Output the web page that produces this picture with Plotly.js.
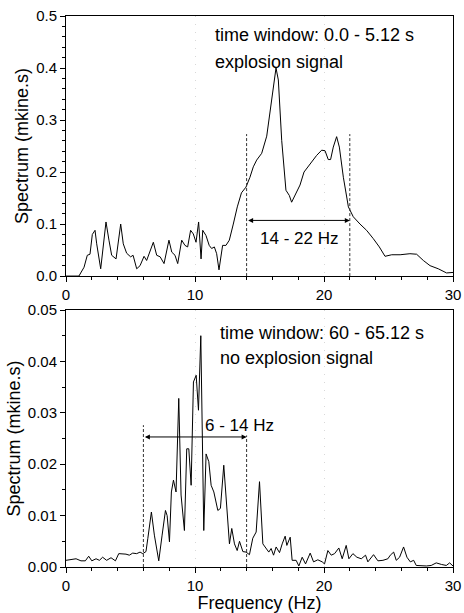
<!DOCTYPE html>
<html>
<head>
<meta charset="utf-8">
<script src="https://cdn.plot.ly/plotly-3.0.1.min.js"></script>
<style>html,body{margin:0;padding:0;background:#fff;}#chart{width:464px;height:613px;}</style>
</head>
<body>
<div id="chart"></div>
<script>
// Top panel: time window 0.0 - 5.12 s (explosion signal)
var freqTop = [0, 1.0, 1.4, 1.65, 1.86, 2.04, 2.25, 2.38, 2.69, 3.1, 3.33, 3.54, 3.88, 4.24, 4.44, 4.7, 5.01, 5.2, 5.48, 5.74, 6.05, 6.25, 6.77, 7.03, 7.3, 7.6, 7.98, 8.2, 8.45, 8.66, 8.97, 9.22, 9.43, 9.66, 9.87, 10.08, 10.28, 10.47, 10.6, 10.85, 11.1, 11.29, 11.5, 11.68, 11.86, 12.14, 12.4, 12.66, 12.97, 13.28, 13.6, 13.95, 14.26, 14.52, 14.78, 15.17, 15.56, 15.86, 16.07, 16.28, 16.46, 16.72, 17.05, 17.31, 17.49, 17.83, 18.14, 18.45, 18.91, 19.43, 19.82, 20.08, 20.33, 20.51, 20.72, 20.98, 21.19, 21.5, 21.89, 22.27, 22.79, 23.3, 23.82, 24.29, 24.73, 25.25, 25.9, 26.66, 27.18, 27.7, 28.22, 28.86, 29.5, 30];
var specTop = [0, 0, 0.017, 0.04, 0.042, 0.08, 0.088, 0.062, 0.014, 0.104, 0.069, 0.04, 0.033, 0.10, 0.062, 0.044, 0.037, 0.04, 0.014, 0.02, 0.038, 0.03, 0.065, 0.04, 0.037, 0.024, 0.069, 0.046, 0.04, 0.024, 0.069, 0.059, 0.056, 0.088, 0.081, 0.065, 0.104, 0.033, 0.088, 0.078, 0.059, 0.053, 0.056, 0.043, 0.012, 0.059, 0.059, 0.069, 0.10, 0.133, 0.16, 0.171, 0.19, 0.21, 0.223, 0.236, 0.269, 0.325, 0.367, 0.40, 0.377, 0.261, 0.165, 0.155, 0.142, 0.159, 0.175, 0.20, 0.216, 0.232, 0.242, 0.241, 0.224, 0.224, 0.248, 0.268, 0.248, 0.19, 0.133, 0.114, 0.10, 0.088, 0.072, 0.056, 0.038, 0.041, 0.041, 0.043, 0.042, 0.030, 0.02, 0.014, 0.006, 0.007];

// Bottom panel: time window 60 - 65.12 s (no explosion signal)
var freqBot = [0, 0.39, 0.78, 1.16, 1.5, 1.76, 2.0, 2.33, 2.59, 2.84, 3.15, 3.49, 3.83, 4.09, 4.65, 4.91, 5.17, 5.48, 5.74, 5.95, 6.2, 6.34, 6.62, 6.85, 7.19, 7.45, 7.71, 7.84, 8.02, 8.17, 8.33, 8.53, 8.74, 8.92, 9.18, 9.36, 9.52, 9.7, 9.88, 10.09, 10.27, 10.45, 10.68, 10.86, 11.07, 11.25, 11.46, 11.77, 11.97, 12.23, 12.41, 12.67, 12.85, 13.06, 13.27, 13.45, 13.71, 13.96, 14.22, 14.48, 14.74, 15.0, 15.26, 15.52, 15.72, 15.9, 16.09, 16.29, 16.55, 16.76, 16.99, 17.12, 17.38, 17.53, 17.84, 18.05, 18.31, 18.57, 18.93, 19.19, 19.52, 19.86, 20.04, 20.3, 20.56, 20.82, 21.15, 21.41, 21.72, 21.93, 22.24, 22.55, 22.89, 23.22, 23.4, 23.84, 24.18, 24.57, 24.95, 25.14, 25.4, 25.6, 25.86, 26.17, 26.43, 26.69, 26.95, 27.15, 27.54, 27.93, 28.31, 28.7, 29.1, 29.48, 29.74, 30];
var specBot = [0.0013, 0.0014, 0.0016, 0.0012, 0.0012, 0.0021, 0.0012, 0.0016, 0.0013, 0.0019, 0.0013, 0.0018, 0.0012, 0.0026, 0.0025, 0.0023, 0.0027, 0.0026, 0.0029, 0.0026, 0.003, 0.0055, 0.0107, 0.0062, 0.0012, 0.0062, 0.011, 0.010, 0.0049, 0.0146, 0.0169, 0.0146, 0.0328, 0.014, 0.0071, 0.023, 0.023, 0.0159, 0.036, 0.0373, 0.0305, 0.045, 0.0071, 0.022, 0.0205, 0.0159, 0.0146, 0.011, 0.0114, 0.0198, 0.014, 0.0045, 0.0075, 0.0045, 0.0032, 0.005, 0.003, 0.0029, 0.0024, 0.0056, 0.0068, 0.0166, 0.0045, 0.0036, 0.0029, 0.0036, 0.0023, 0.0039, 0.0028, 0.0045, 0.006, 0.0042, 0.0058, 0.0013, 0.0013, 0.0002, 0.0019, 0.0006, 0.0027, 0.001, 0.0014, 0.001, 0.0006, 0.0032, 0.0023, 0.0026, 0.0037, 0.0016, 0.0042, 0.0016, 0.0026, 0.0019, 0.0016, 0.0023, 0.001, 0.0024, 0.0012, 0.0013, 0.0016, 0.0023, 0.0029, 0.0013, 0.0019, 0.0039, 0.0019, 0.001, 0.0013, 0.0003, 0.0002, 0.0002, 0.0003, 0.0008, 0.0005, 0.0003, 0.0008, 0.0002];

// Frequency bands marked on each panel
var bandTop = [14, 22];          // Hz
var bandTopArrowY = 0.107;
var bandTopLineTop = 0.273;
var bandTopLabel = "14 - 22 Hz";
var bandBot = [6, 14];           // Hz
var bandBotArrowY = 0.0253;
var bandBotLineTop = [0.0276, 0.0256];
var bandBotLabel = "6 - 14 Hz";

var textTop = ["time window: 0.0 - 5.12 s", "explosion signal"];
var textBot = ["time window: 60 - 65.12 s", "no explosion signal"];

var FONT = "Liberation Sans, Arial, Helvetica, sans-serif";

var traces = [
  {x: freqTop, y: specTop, type: "scatter", mode: "lines", xaxis: "x", yaxis: "y",
   line: {color: "#000", width: 1}, showlegend: false, hoverinfo: "skip"},
  {x: freqBot, y: specBot, type: "scatter", mode: "lines", xaxis: "x2", yaxis: "y2",
   line: {color: "#000", width: 1}, showlegend: false, hoverinfo: "skip"}
];

function xax(extra) {
  var a = {
    range: [0, 30], dtick: 10, tick0: 0, ticks: "outside", ticklen: 5, tickwidth: 1, tickcolor: "#000",
    showline: true, linecolor: "#000", linewidth: 1, mirror: true, zeroline: false,
    showgrid: true, gridcolor: "#d8d8d8", griddash: "1px,7px", gridwidth: 1,
    tickfont: {family: FONT, size: 15, color: "#000"},
    minor: {dtick: 2, tick0: 0, ticks: "outside", ticklen: 3, tickcolor: "#000", showgrid: false}
  };
  for (var k in extra) a[k] = extra[k];
  return a;
}
function yax(extra) {
  var a = {
    ticks: "outside", ticklen: 5, tickwidth: 1, tickcolor: "#000",
    showline: true, linecolor: "#000", linewidth: 1, mirror: true, zeroline: false, showgrid: false,
    tickfont: {family: FONT, size: 15, color: "#000"},
    title: {text: "Spectrum (mkine.s)", font: {family: FONT, size: 18, color: "#000"}, standoff: 2}
  };
  for (var k in extra) a[k] = extra[k];
  return a;
}

var annFont = {family: FONT, size: 18, color: "#000"};
var bandFont = {family: FONT, size: 17, color: "#000"};

var annotations = [
  {x: 11.4, y: 0.463, xref: "x", yref: "y", text: textTop[0], showarrow: false, xanchor: "left", yanchor: "middle", font: annFont},
  {x: 11.4, y: 0.4115, xref: "x", yref: "y", text: textTop[1], showarrow: false, xanchor: "left", yanchor: "middle", font: annFont},
  {x: 11.8, y: 0.0455, xref: "x2", yref: "y2", text: textBot[0], showarrow: false, xanchor: "left", yanchor: "middle", font: annFont},
  {x: 11.8, y: 0.0407, xref: "x2", yref: "y2", text: textBot[1], showarrow: false, xanchor: "left", yanchor: "middle", font: annFont},
  {x: 18.1, y: 0.073, xref: "x", yref: "y", text: bandTopLabel, showarrow: false, font: bandFont},
  {x: 13.45, y: 0.0276, xref: "x2", yref: "y2", text: bandBotLabel, showarrow: false, font: bandFont},
  {x: bandTop[1], y: bandTopArrowY, ax: bandTop[0], ay: bandTopArrowY, xref: "x", yref: "y", axref: "x", ayref: "y",
   text: "", showarrow: true, arrowhead: 2, arrowside: "end+start", arrowsize: 1, arrowwidth: 1, arrowcolor: "#000", standoff: 0, startstandoff: 0},
  {x: bandBot[1], y: bandBotArrowY, ax: bandBot[0], ay: bandBotArrowY, xref: "x2", yref: "y2", axref: "x2", ayref: "y2",
   text: "", showarrow: true, arrowhead: 2, arrowside: "end+start", arrowsize: 1, arrowwidth: 1, arrowcolor: "#000", standoff: 0, startstandoff: 0}
];

var dashLine = {color: "#333", width: 1, dash: "3px,2px"};
var shapes = [
  {type: "line", xref: "x", yref: "y", x0: bandTop[0], x1: bandTop[0], y0: 0, y1: bandTopLineTop, line: dashLine},
  {type: "line", xref: "x", yref: "y", x0: bandTop[1], x1: bandTop[1], y0: 0, y1: bandTopLineTop, line: dashLine},
  {type: "line", xref: "x2", yref: "y2", x0: bandBot[0], x1: bandBot[0], y0: 0, y1: bandBotLineTop[0], line: dashLine},
  {type: "line", xref: "x2", yref: "y2", x0: bandBot[1], x1: bandBot[1], y0: 0, y1: bandBotLineTop[1], line: dashLine}
];

var layout = {
  width: 464, height: 613,
  margin: {l: 66, r: 11, t: 16, b: 46},
  paper_bgcolor: "#fff", plot_bgcolor: "#fff",
  font: {family: FONT, color: "#000"},
  showlegend: false,
  xaxis: xax({anchor: "y", domain: [0, 1]}),
  yaxis: yax({anchor: "x", domain: [0.528, 1], range: [0, 0.5], dtick: 0.1, tickformat: ".1f",
    minor: {dtick: 0.02, tick0: 0, ticks: "outside", ticklen: 3, tickcolor: "#000", showgrid: false}}),
  xaxis2: xax({anchor: "y2", domain: [0, 1],
    title: {text: "Frequency (Hz)", font: {family: FONT, size: 18, color: "#000"}, standoff: 5}}),
  yaxis2: yax({anchor: "x2", domain: [0, 0.4664], range: [0, 0.05], dtick: 0.01, tickformat: ".2f",
    minor: {dtick: 0.005, tick0: 0, ticks: "outside", ticklen: 3, tickcolor: "#000", showgrid: false}}),
  annotations: annotations,
  shapes: shapes
};

Plotly.newPlot("chart", traces, layout, {staticPlot: true, displayModeBar: false});
</script>
</body>
</html>
